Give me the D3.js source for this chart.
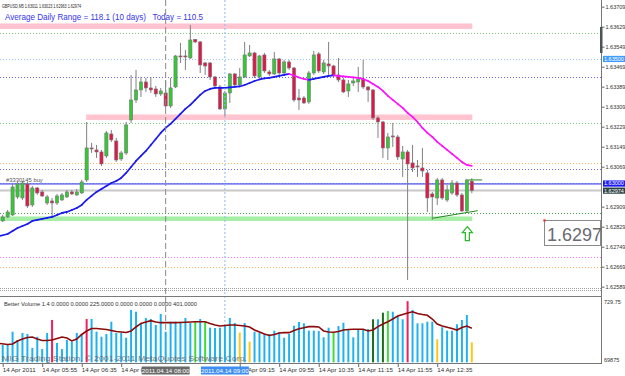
<!DOCTYPE html>
<html>
<head>
<meta charset="utf-8">
<script src="https://cdn.jsdelivr.net/npm/d3@7"></script>
<style>
  body { margin: 0; background: #fff; }
  svg { display: block; }
  text { font-family: "Liberation Sans", Arial, sans-serif; }
</style>
</head>
<body>
<script>
// GBPUSD M5, 14 Apr 2011 05:15 .. 13:10 (96 bars)
const opens = [1.62852,1.62868,1.62876,1.62948,1.62944,1.63000,1.62916,1.62984,1.62968,1.62924,
  1.62932,1.62924,1.62936,1.62948,1.62968,1.62956,1.62964,1.63016,1.63144,1.63136,
  1.63128,1.63112,1.63200,1.63172,1.63100,1.63124,1.63256,1.63336,1.63376,1.63408,
  1.63384,1.63380,1.63360,1.63364,1.63312,1.63388,1.63512,1.63512,1.63504,1.63578,
  1.63568,1.63484,1.63484,1.63428,1.63388,1.63300,1.63364,1.63440,1.63396,1.63428,
  1.63512,1.63524,1.63428,1.63516,1.63448,1.63440,1.63500,1.63444,1.63488,1.63464,
  1.63344,1.63344,1.63328,1.63444,1.63520,1.63448,1.63480,1.63472,1.63436,1.63416,
  1.63372,1.63404,1.63408,1.63420,1.63388,1.63376,1.63264,1.63248,1.63144,1.63192,
  1.63188,1.63100,1.63128,1.63084,1.63072,1.63064,1.63044,1.62960,1.62944,1.63016,
  1.62936,1.62964,1.63004,1.62956,1.62892,1.63011];
const highs = [1.62876,1.62896,1.63000,1.63008,1.63012,1.63008,1.62992,1.62988,1.62976,1.62956,
  1.62944,1.62960,1.62964,1.62976,1.62976,1.62980,1.63016,1.63248,1.63164,1.63156,
  1.63136,1.63212,1.63216,1.63184,1.63132,1.63248,1.63436,1.63456,1.63428,1.63424,
  1.63428,1.63392,1.63384,1.63416,1.63424,1.63516,1.63564,1.63536,1.63636,1.63580,
  1.63572,1.63488,1.63488,1.63432,1.63396,1.63372,1.63444,1.63444,1.63464,1.63568,
  1.63556,1.63528,1.63516,1.63524,1.63456,1.63528,1.63504,1.63496,1.63496,1.63468,
  1.63380,1.63352,1.63452,1.63532,1.63528,1.63496,1.63568,1.63476,1.63504,1.63424,
  1.63416,1.63428,1.63468,1.63496,1.63392,1.63380,1.63272,1.63252,1.63204,1.63244,
  1.63196,1.63152,1.63136,1.63156,1.63096,1.63144,1.63056,1.62968,1.63024,1.63024,
  1.62996,1.63016,1.63012,1.62964,1.63020,1.63023];
const lows = [1.62848,1.62864,1.62872,1.62940,1.62936,1.62904,1.62908,1.62956,1.62948,1.62916,
  1.62864,1.62916,1.62932,1.62944,1.62956,1.62952,1.62960,1.63008,1.63124,1.63104,
  1.63072,1.63104,1.63168,1.63088,1.63092,1.63116,1.63244,1.63324,1.63348,1.63368,
  1.63364,1.63348,1.63352,1.63304,1.63304,1.63384,1.63484,1.63456,1.63500,1.63564,
  1.63444,1.63436,1.63416,1.63384,1.63296,1.63272,1.63324,1.63388,1.63388,1.63424,
  1.63508,1.63424,1.63424,1.63444,1.63432,1.63436,1.63436,1.63436,1.63456,1.63328,
  1.63296,1.63320,1.63320,1.63436,1.63444,1.63440,1.63436,1.63428,1.63408,1.63364,
  1.63348,1.63392,1.63368,1.63380,1.63328,1.63256,1.63184,1.63104,1.63096,1.63148,
  1.63096,1.63028,1.62616,1.63048,1.63028,1.63028,1.62888,1.62856,1.62916,1.62936,
  1.62928,1.62956,1.62948,1.62888,1.62888,1.62963];
const closes = [1.62868,1.62888,1.62988,1.63000,1.63004,1.62912,1.62984,1.62964,1.62952,1.62948,
  1.62924,1.62952,1.62956,1.62968,1.62960,1.62968,1.63008,1.63144,1.63142,1.63128,
  1.63080,1.63204,1.63176,1.63096,1.63124,1.63236,1.63336,1.63376,1.63408,1.63384,
  1.63376,1.63360,1.63372,1.63312,1.63384,1.63512,1.63510,1.63510,1.63576,1.63568,
  1.63476,1.63472,1.63428,1.63392,1.63300,1.63364,1.63440,1.63396,1.63428,1.63516,
  1.63524,1.63432,1.63512,1.63452,1.63440,1.63500,1.63444,1.63488,1.63464,1.63336,
  1.63336,1.63324,1.63444,1.63516,1.63452,1.63484,1.63472,1.63436,1.63416,1.63368,
  1.63400,1.63412,1.63420,1.63388,1.63376,1.63264,1.63248,1.63144,1.63188,1.63190,
  1.63108,1.63128,1.63080,1.63064,1.63068,1.63052,1.62944,1.62948,1.63016,1.62944,
  1.62976,1.63004,1.62956,1.62892,1.63016,1.62974];
// moving average (blue when rising, magenta when falling)
const maValues = [1.62792,1.62800,1.62812,1.62824,1.62832,1.62840,1.62852,1.62856,1.62860,1.62864,
  1.62868,1.62876,1.62884,1.62888,1.62896,1.62904,1.62916,1.62936,1.62952,1.62968,
  1.62980,1.62992,1.63004,1.63012,1.63024,1.63044,1.63068,1.63092,1.63112,1.63132,
  1.63156,1.63180,1.63204,1.63224,1.63240,1.63260,1.63280,1.63300,1.63316,1.63336,
  1.63356,1.63372,1.63380,1.63384,1.63384,1.63384,1.63386,1.63388,1.63390,1.63396,
  1.63404,1.63412,1.63418,1.63422,1.63424,1.63428,1.63432,1.63436,1.63440,1.63434,
  1.63426,1.63420,1.63416,1.63420,1.63424,1.63428,1.63432,1.63434,1.63432,1.63430,
  1.63428,1.63426,1.63424,1.63420,1.63412,1.63400,1.63388,1.63372,1.63352,1.63336,
  1.63320,1.63304,1.63284,1.63268,1.63248,1.63224,1.63204,1.63188,1.63168,1.63152,
  1.63136,1.63120,1.63104,1.63088,1.63076,1.63072];
// Better Volume
const volumes = [192,192,358,254,342,329,154,295,141,342,
  505,217,141,254,233,342,329,517,517,358,
  295,329,483,342,342,283,630,608,454,530,
  517,442,580,358,483,483,483,530,467,480,
  517,480,408,404,408,442,530,467,346,467,
  233,358,342,329,329,371,354,283,329,433,
  480,463,371,371,367,288,408,346,429,471,
  392,288,388,379,392,513,513,596,617,608,
  555,513,740,630,463,463,483,483,263,413,
  371,371,451,505,567,225];
const volumeTypes = ['n','n','n','n','n','n','n','n','n','n',
  'r','n','n','n','n','n','n','r','n','n',
  'n','n','n','n','n','n','n','n','n','n',
  'n','n','n','n','n','n','n','n','n','g',
  'n','g','n','n','n','n','n','n','y','n',
  'y','n','n','n','n','n','n','n','n','n',
  'n','n','n','n','n','n','n','g','n','n',
  'n','n','n','n','n','d','n','d','g','n',
  'n','n','r','n','n','n','n','n','y','n',
  'n','n','n','n','n','y'];
const volumeMA = [210,198,204,242,267,285,292,267,248,248,
  254,273,292,279,242,267,323,367,398,398,
  392,386,373,361,354,348,367,417,461,480,
  496,480,471,471,471,471,473,476,480,483,
  483,483,461,442,429,436,442,442,436,429,
  417,379,354,329,310,323,342,346,346,373,
  396,408,421,421,417,367,354,351,361,379,
  386,388,388,388,367,379,421,454,483,517,
  555,573,592,608,586,573,563,517,454,429,
  413,398,379,411,429,401];

const timeTickIdx = [0, 8, 16, 24, 48, 56, 64, 72, 80, 88];
const timeLabels = ['14 Apr 2011','14 Apr 05:55','14 Apr 06:35','14 Apr 07:15',
  '14 Apr 09:15','14 Apr 09:55','14 Apr 10:35','14 Apr 11:15','14 Apr 11:55','14 Apr 12:35'];
const priceTicks = [1.63709,1.63629,1.63549,1.63469,1.63389,1.63309,1.63229,1.63149,1.63069,
  1.62909,1.62829,1.62749,1.62669,1.62589];

// chart objects
const zoneTop = [1.63642, 1.63278, 1.62870];
const zoneBottom = [1.63620, 1.63256, 1.62852];
const zoneStart = [null, 17, null];
const zoneKind = ['pink', 'pink', 'green'];
const levelPrices = [1.63604, 1.63500, 1.63428, 1.63244, 1.63084, 1.63059, 1.63005, 1.62884, 1.62707, 1.62667];
const levelKind = ['green', 'ltblue', 'blue', 'green', 'orange', 'blue', 'ltgreen', 'dkgreen', 'magenta', 'orange'];
const orderPrice = 1.63000;
const bidPrice = 1.62974;
const vLineIdx = [33, 45];
const vLineLabels = ['2011.04.14 08:00', '2011.04.14 09:00'];
const trendIdx = [87.1, 96.2];
const trendPrice = [1.62863, 1.62893];
const shortLineIdx = [94.3, 97.1];
const shortLinePrice = 1.63016;
const arrowIdx = 94.1;
const arrowPrice = 1.62829;
const gaugeRange = [1.63628, 1.63524];

const colors = {
  up: '#33c933', down: '#e0184a', wick: '#808080',
  pink: '#ffc4cf', green: '#a6eea6',
  level: { green: '#7cc87c', ltblue: '#9cc3f7', blue: '#6a6af5', orange: '#ffb860',
           ltgreen: '#a8e6a8', dkgreen: '#4aa24a', magenta: '#ff70ff' },
  vol: { n: '#1fb2f0', r: '#f0205a', g: '#3ddc3d', d: '#1d6a1d', y: '#ffc61a' }
};

const W = 625, H = 376;
const svg = d3.select('body').append('svg').attr('width', W).attr('height', H);
svg.append('rect').attr('width', W).attr('height', H).attr('fill', '#fff');

const x = d3.scaleLinear().domain([0, 95]).range([2.7, 471.8]);
const y = d3.scaleLinear().domain([1.62589, 1.63709]).range([286.7, 6.7]);
const yVol = d3.scaleLinear().domain([0, 729.75]).range([360.3, 302]);
const axisX = 601.5;

svg.append('clipPath').attr('id', 'mainClip')
  .append('rect').attr('x', 0).attr('y', 0).attr('width', 601).attr('height', 289);
svg.append('clipPath').attr('id', 'volClip')
  .append('rect').attr('x', 0).attr('y', 297).attr('width', 601).attr('height', 66);

const plot = svg.append('g').attr('clip-path', 'url(#mainClip)');

// zones
plot.selectAll('rect.zone').data(zoneTop).join('rect').attr('class', 'zone')
  .attr('x', (d, i) => zoneStart[i] === null ? 0 : x(zoneStart[i]) - 0.5)
  .attr('y', d => y(d))
  .attr('width', (d, i) => x(95) + 0.5 - (zoneStart[i] === null ? 0 : x(zoneStart[i]) - 0.5))
  .attr('height', (d, i) => y(zoneBottom[i]) - y(d))
  .attr('fill', (d, i) => colors[zoneKind[i]]);

// dotted levels
plot.selectAll('line.level').data(levelPrices).join('line').attr('class', 'level')
  .attr('x1', 0).attr('x2', 601)
  .attr('y1', d => Math.round(y(d)) + 0.5).attr('y2', d => Math.round(y(d)) + 0.5)
  .attr('stroke', (d, i) => colors.level[levelKind[i]])
  .attr('stroke-width', 1)
  .attr('stroke-dasharray', '1,2');

// order line and bid line
plot.append('line').attr('x1', 0).attr('x2', 601)
  .attr('y1', y(orderPrice)).attr('y2', y(orderPrice))
  .attr('stroke', '#2525f5').attr('stroke-width', 1);
plot.append('line').attr('x1', 0).attr('x2', 601)
  .attr('y1', y(bidPrice)).attr('y2', y(bidPrice))
  .attr('stroke', '#c8c8c8').attr('stroke-width', 2);

// vertical lines (through both windows)
svg.append('line').attr('x1', x(vLineIdx[0])).attr('x2', x(vLineIdx[0]))
  .attr('y1', 0).attr('y2', 364)
  .attr('stroke', '#8a8a8a').attr('stroke-dasharray', '6,3');
svg.append('line').attr('x1', x(vLineIdx[1])).attr('x2', x(vLineIdx[1]))
  .attr('y1', 0).attr('y2', 364)
  .attr('stroke', '#8fb8ee').attr('stroke-dasharray', '2,2');

// candles
const candles = d3.range(opens.length).map(i => ({ i, o: opens[i], h: highs[i], l: lows[i], c: closes[i] }));
plot.selectAll('line.wick').data(candles).join('line').attr('class', 'wick')
  .attr('x1', d => x(d.i)).attr('x2', d => x(d.i))
  .attr('y1', d => y(d.h)).attr('y2', d => y(d.l))
  .attr('stroke', colors.wick).attr('stroke-width', 1);
plot.selectAll('rect.body').data(candles).join('rect').attr('class', 'body')
  .attr('x', d => x(d.i) - 1.6)
  .attr('width', 3.2)
  .attr('y', d => y(Math.max(d.o, d.c)))
  .attr('height', d => Math.max(1, Math.abs(y(d.o) - y(d.c))))
  .attr('fill', d => d.c >= d.o ? colors.up : colors.down)
  .attr('stroke', '#777').attr('stroke-width', 0.6);

// moving average, coloured by slope
const maSegs = d3.range(1, maValues.length).map(i => ({ a: i - 1, b: i }));
plot.selectAll('line.ma').data(maSegs).join('line').attr('class', 'ma')
  .attr('x1', d => d.a === 0 ? 0 : x(d.a)).attr('x2', d => x(d.b))
  .attr('y1', d => y(maValues[d.a])).attr('y2', d => y(maValues[d.b]))
  .attr('stroke', d => maValues[d.b] >= maValues[d.a] ? '#1a1af0' : '#ff10ff')
  .attr('stroke-width', 1.7).attr('stroke-linecap', 'round');

// trend lines and arrow
plot.append('line')
  .attr('x1', x(trendIdx[0])).attr('y1', y(trendPrice[0]))
  .attr('x2', x(trendIdx[1])).attr('y2', y(trendPrice[1]))
  .attr('stroke', '#1f8a1f').attr('stroke-width', 1);
plot.append('line')
  .attr('x1', x(shortLineIdx[0])).attr('x2', x(shortLineIdx[1]))
  .attr('y1', y(shortLinePrice)).attr('y2', y(shortLinePrice))
  .attr('stroke', '#1f8a1f').attr('stroke-width', 1);
plot.append('path')
  .attr('transform', `translate(${x(arrowIdx)},${y(arrowPrice)})`)
  .attr('d', 'M0,0 L5,6 L2,6 L2,14 L-2,14 L-2,6 L-5,6 Z')
  .attr('fill', '#fff').attr('stroke', '#2db82d').attr('stroke-width', 1.3);

// window borders
svg.append('line').attr('x1', 0).attr('x2', axisX).attr('y1', 288.5).attr('y2', 288.5)
  .attr('stroke', '#a0a0a0').attr('stroke-dasharray', '1,1');
svg.append('line').attr('x1', 0).attr('x2', axisX).attr('y1', 290.5).attr('y2', 290.5)
  .attr('stroke', '#a0a0a0').attr('stroke-dasharray', '1,1');
svg.append('line').attr('x1', 0).attr('x2', axisX).attr('y1', 296.5).attr('y2', 296.5)
  .attr('stroke', '#7a7a7a');

// price axis
const pAxis = svg.append('g').attr('transform', `translate(${axisX},0)`)
  .call(d3.axisRight(y).tickValues(priceTicks).tickFormat(d => d.toFixed(5)).tickSize(3).tickPadding(1));
pAxis.select('.domain').remove();
pAxis.selectAll('line').attr('stroke', '#666');
pAxis.selectAll('text').attr('font-size', 5.5).attr('fill', '#333').attr('font-family', '"Liberation Sans", Arial');
svg.append('line').attr('x1', axisX).attr('x2', axisX).attr('y1', 0).attr('y2', 364).attr('stroke', '#777');

// gauge on the axis
svg.append('rect').attr('x', 600).attr('width', 2.5)
  .attr('y', y(gaugeRange[0])).attr('height', y(gaugeRange[1]) - y(gaugeRange[0]))
  .attr('fill', '#4a5656');

// price markers
const markPrices = [1.63500, orderPrice, bidPrice];
const markFill = ['#3f9cff', '#1c1cf0', '#2e4444'];
const marks = svg.selectAll('g.mark').data(markPrices).join('g').attr('class', 'mark')
  .attr('transform', (d, i) => `translate(603,${y(d) + (i === 1 ? -0.4 : i === 2 ? 0.2 : 0)})`);
marks.append('rect').attr('x', 0).attr('y', -3.1).attr('width', 22).attr('height', 6.2)
  .attr('fill', (d, i) => markFill[i]);
marks.append('text').attr('x', 1).attr('y', 1.9).attr('font-size', 5.5).attr('fill', '#fff')
  .text(d => d.toFixed(5));

// volume window
const vol = svg.append('g').attr('clip-path', 'url(#volClip)');
vol.selectAll('rect.vb').data(volumes).join('rect').attr('class', 'vb')
  .attr('x', (d, i) => x(i) - 1)
  .attr('width', 2)
  .attr('y', d => yVol(d))
  .attr('height', d => yVol(0) - yVol(d) + 2)
  .attr('fill', (d, i) => colors.vol[volumeTypes[i]]);
vol.append('path')
  .datum(volumeMA)
  .attr('d', d3.line().x((d, i) => i === 0 ? 0 : x(i)).y(d => yVol(d)))
  .attr('fill', 'none').attr('stroke', '#8b0a0a').attr('stroke-width', 1.6);

svg.append('text').attr('x', 604).attr('y', yVol(729.75) + 2)
  .attr('font-size', 5.5).attr('fill', '#333').text('729.75');
svg.append('text').attr('x', 604).attr('y', 361.5)
  .attr('font-size', 5.5).attr('fill', '#333').text('69875');
svg.append('text').attr('x', 4).attr('y', 306)
  .attr('font-size', 5.8).attr('fill', '#333')
  .attr('textLength', 193).attr('lengthAdjust', 'spacingAndGlyphs')
  .text('Better Volume 1.4 0.0000 0.0000 225.0000 0.0000 0.0000 0.0000 401.0000');
svg.append('text').attr('x', 2).attr('y', 360.5)
  .attr('font-size', 7).attr('fill', '#666').attr('opacity', 0.85)
  .attr('textLength', 245).attr('lengthAdjust', 'spacingAndGlyphs')
  .text('MIG Trading Station, © 2001-2011 MetaQuotes Software Corp.');

// time axis
const tAxis = svg.append('g').attr('transform', 'translate(0,364)')
  .call(d3.axisBottom(x).tickValues(timeTickIdx).tickFormat((d, i) => timeLabels[i]).tickSize(3).tickPadding(1));
tAxis.select('.domain').remove();
tAxis.selectAll('line').attr('stroke', '#666');
tAxis.selectAll('text').attr('font-size', 6.2).attr('fill', '#333')
  .attr('text-anchor', 'start').attr('dx', -0.5);
svg.append('line').attr('x1', 0).attr('x2', axisX).attr('y1', 363.5).attr('y2', 363.5).attr('stroke', '#777');

const vLab = svg.selectAll('g.vlab').data(vLineIdx).join('g').attr('class', 'vlab')
  .attr('transform', d => `translate(${x(d)},370.5)`);
vLab.append('rect').attr('x', -24).attr('y', -4).attr('width', 48).attr('height', 8)
  .attr('fill', (d, i) => i === 0 ? '#6a6a6a' : '#3d8ef0');
vLab.append('text').attr('text-anchor', 'middle').attr('y', 2.2).attr('font-size', 6.2)
  .attr('fill', '#fff').text((d, i) => vLineLabels[i]);

// header texts
svg.append('text').attr('x', 2).attr('y', 7.5).attr('font-size', 4.9).attr('fill', '#222')
  .attr('textLength', 79).attr('lengthAdjust', 'spacingAndGlyphs')
  .text('GBPUSD,M5 1.63011 1.63023 1.62963 1.62974');
svg.append('text').attr('x', 5).attr('y', 19.5).attr('font-size', 8.3).attr('fill', '#3535e8')
  .attr('xml:space', 'preserve')
  .attr('textLength', 198).attr('lengthAdjust', 'spacingAndGlyphs')
  .text('Average Daily Range = 118.1 (10 days)   Today = 110.5');

// order label
svg.append('text').attr('x', 6).attr('y', 181.5).attr('font-size', 5.8).attr('fill', '#555')
  .text('#3330145 buy');

// price box
svg.append('rect').attr('x', 544.5).attr('y', 220.5).attr('width', 56).attr('height', 25)
  .attr('fill', '#fff').attr('stroke', '#8a8a8a');
svg.append('circle').attr('cx', 544.5).attr('cy', 220.5).attr('r', 1.3).attr('fill', '#e33');
svg.append('text').attr('x', 547).attr('y', 240.5).attr('font-size', 18).attr('fill', '#6a6a72')
  .text('1.6297');
</script>
</body>
</html>
